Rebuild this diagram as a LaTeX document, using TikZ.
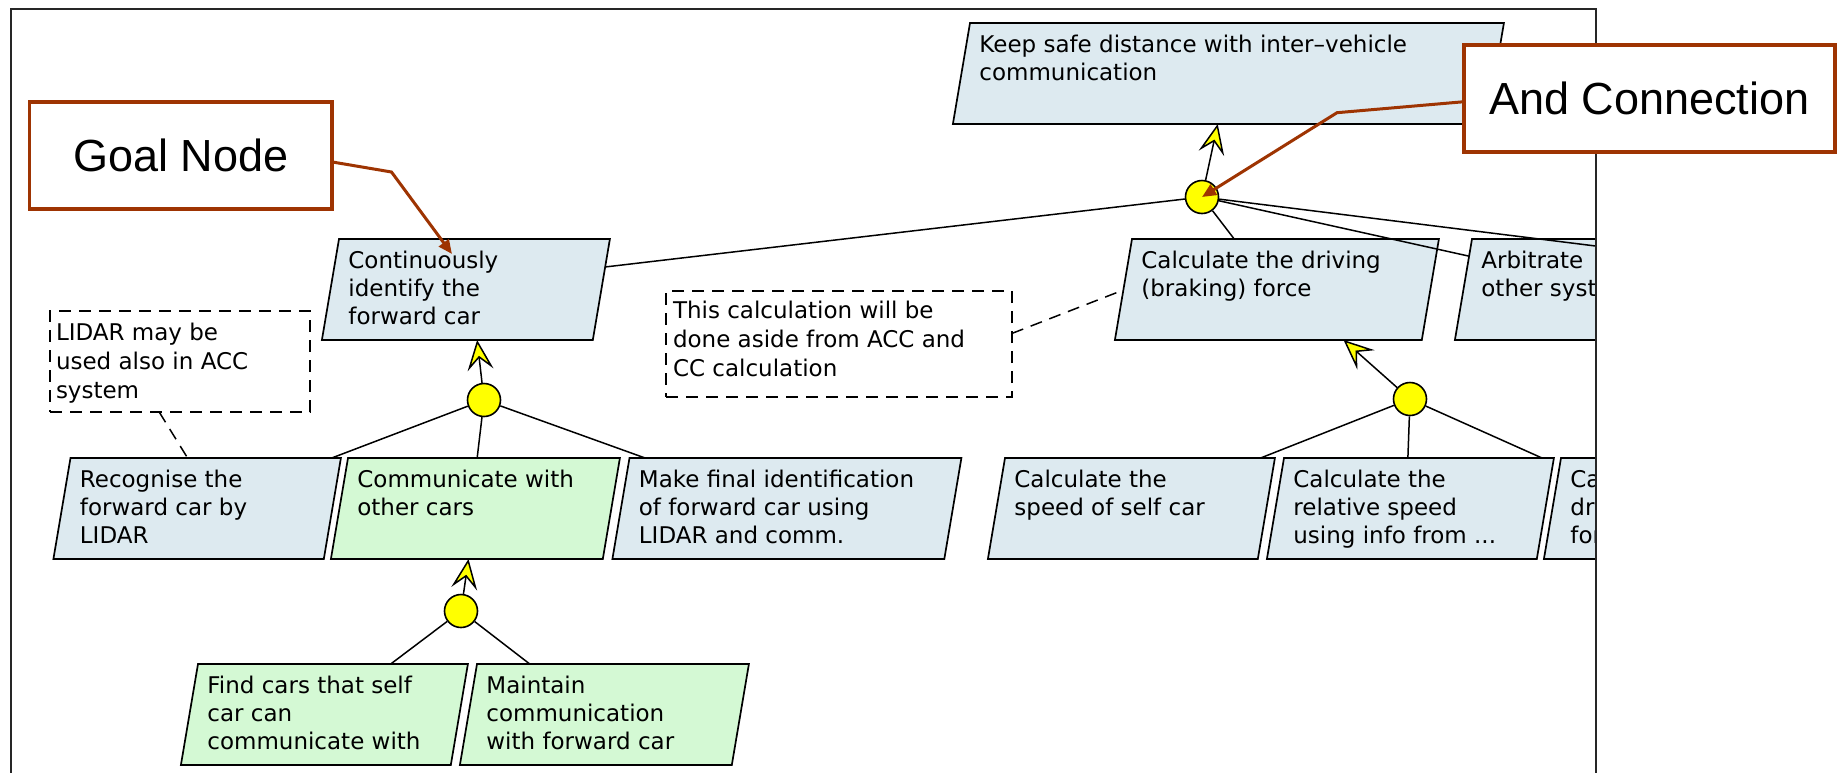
\documentclass[tikz,border=0pt]{standalone}
\usepackage{fontspec}
\setmainfont{DejaVu Sans}
\newfontfamily\boxfamily{DejaVu Sans}
\newfontfamily\calloutfamily{Liberation Sans}
\usetikzlibrary{shapes.geometric, arrows.meta, calc}

\definecolor{goalblue}{RGB}{221,234,240}
\definecolor{goalgreen}{RGB}{212,249,212}
\definecolor{calloutbrown}{RGB}{158,52,2}
\definecolor{andyellow}{RGB}{255,255,0}

\newcommand\goalfont{\boxfamily\fontsize{11.5pt}{14pt}\selectfont}
\newcommand\notefont{\boxfamily\fontsize{11.5pt}{14.5pt}\selectfont}

% goal box: name, x and y of the top left corner, length of the top edge, fill, text
\newcommand\goal[6]{%
  \node[goal, fill=#5, minimum width={(#4+21)*0.5pt}] (#1) at (#2,#3)
    {\parbox[c][41.1pt][t]{\dimexpr(#4pt-32pt)/2\relax}{\raggedright\strut #6}};}

\begin{document}
\begin{tikzpicture}[x=0.5pt, y=-0.5pt,
  goal/.style={trapezium, trapezium left angle=78.25, trapezium right angle=101.75,
    trapezium stretches body, draw=black, line width=0.85pt, minimum height=50.5pt,
    inner sep=0pt, outer sep=0pt, anchor=top left corner, font=\goalfont},
  andnode/.style={circle, draw=black, fill=andyellow, line width=0.8pt,
    minimum size=16.5pt, inner sep=0pt},
  andline/.style={line width=0.75pt},
  andarrow/.style={line width=0.75pt,
    -{Stealth[length=15pt, width=13pt, inset=6pt, fill=andyellow]}},
  note/.style={draw=black, dash pattern=on 6pt off 4pt, line width=0.75pt,
    rectangle, inner sep=0pt, outer sep=0pt, anchor=north west, font=\notefont},
  notelink/.style={dash pattern=on 6pt off 4pt, line width=0.75pt},
  callout/.style={rectangle, draw=calloutbrown, fill=white, line width=1.6pt,
    inner sep=0pt, outer sep=0pt, anchor=north west,
    font=\calloutfamily\fontsize{22.5pt}{27pt}\selectfont},
  calloutarrow/.style={draw=calloutbrown, line width=1.5pt,
    -{Triangle[length=7pt, width=6pt]}},
  frame/.style={draw=black!85, line width=1pt}]

\useasboundingbox (0,0) rectangle (1838,772);
\clip (0,0) rectangle (1838,772);

\begin{scope}
  \clip (11,9) rectangle (1596,800);

  % goals
  \goal{keep}{970}{23}{530}{goalblue}{Keep safe distance with inter–vehicle\\communication}
  \goal{cont}{339}{239}{267}{goalblue}{Continuously\\identify the\\forward car}
  \goal{drive}{1132}{239}{303}{goalblue}{Calculate the driving\\(braking) force}
  \goal{arb}{1472}{239}{266}{goalblue}{Arbitrate\\other systems}
  \goal{recog}{70.5}{458}{266.5}{goalblue}{Recognise the\\forward car by\\LIDAR}
  \goal{comm}{348}{458}{268}{goalgreen}{Communicate with\\other cars}
  \goal{make}{629.5}{458}{328}{goalblue}{Make final identification\\of forward car using\\LIDAR and comm.}
  \goal{speed}{1005}{458}{266}{goalblue}{Calculate the\\speed of self car}
  \goal{rel}{1284}{458}{266}{goalblue}{Calculate the\\relative speed\\using info from ...}
  \goal{far}{1561}{458}{266}{goalblue}{Calculate\\driving\\force}
  \goal{find}{198}{664}{266}{goalgreen}{Find cars that self\\car can\\communicate with}
  \goal{maint}{477}{664}{268}{goalgreen}{Maintain\\communication\\with forward car}

  % notes
  \node[note, minimum width=130pt, minimum height=50.5pt] (lidar) at (50,311)
    {\parbox[c][41.8pt][t]{124pt}{\raggedright\strut LIDAR may be\\used also in ACC\\system}};
  \node[note, minimum width=173pt, minimum height=53pt] (calcnote) at (666,291)
    {\parbox[c][46.3pt][t]{166pt}{\raggedright\strut This calculation will be\\done aside from ACC and\\CC calculation}};
  \draw[notelink] ($(lidar.south west)!0.42!(lidar.south east)$)
    -- ($(recog.top left corner)!0.433!(recog.top right corner)$);
  \draw[notelink] ($(calcnote.north east)!0.4!(calcnote.south east)$)
    -- ($(drive.top left corner)!0.505!(drive.bottom left corner)$);

  % and-connections
  \node[andnode] (c1) at (1202,197) {};
  \node[andnode] (c2) at (484,400) {};
  \node[andnode] (c3) at (461,611) {};
  \node[andnode] (c4) at (1410,399) {};
  \coordinate (offright) at (1700,259);

  \draw[andarrow] (c1) -- ($(keep.bottom left corner)!0.496!(keep.bottom right corner)$);
  \draw[andline] (c1) -- ($(cont.top right corner)!0.277!(cont.bottom right corner)$);
  \draw[andline] (c1) -- ($(drive.top left corner)!0.333!(drive.top right corner)$);
  \draw[andline] (c1) -- ($(arb.top left corner)!0.17!(arb.bottom left corner)$);
  \draw[andline] (c1) -- (offright);

  \draw[andarrow] (c2) -- ($(cont.bottom left corner)!0.573!(cont.bottom right corner)$);
  \draw[andline] (c2) -- ($(recog.top left corner)!0.966!(recog.top right corner)$);
  \draw[andline] (c2) -- ($(comm.top left corner)!0.475!(comm.top right corner)$);
  \draw[andline] (c2) -- ($(make.top left corner)!0.047!(make.top right corner)$);

  \draw[andarrow] (c3) -- ($(comm.bottom left corner)!0.506!(comm.bottom right corner)$);
  \draw[andline] (c3) -- ($(find.top left corner)!0.714!(find.top right corner)$);
  \draw[andline] (c3) -- ($(maint.top left corner)!0.194!(maint.top right corner)$);

  \draw[andarrow] (c4) -- ($(drive.bottom left corner)!0.745!(drive.bottom right corner)$);
  \draw[andline] (c4) -- ($(speed.top left corner)!0.947!(speed.top right corner)$);
  \draw[andline] (c4) -- ($(rel.top left corner)!0.459!(rel.top right corner)$);
  \draw[andline] (c4) -- ($(far.top left corner)+(-19,0)$);
\end{scope}

% frame
\draw[frame] (11,9) rectangle (1596,800);

% callouts
\node[callout, minimum width=151.25pt, minimum height=53.5pt] (goalcall) at (29.5,102) {Goal Node};
\coordinate (goalbend) at (391.5,172);
\coordinate (goaltip) at ($(cont.top left corner)+(113,15)$);
\draw[calloutarrow] ($(goalcall.north east)!0.56!(goalcall.south east)$) -- (goalbend) -- (goaltip);

\node[callout, minimum width=185.5pt, minimum height=53.5pt] (andcall) at (1464,45) {And Connection};
\coordinate (andbend) at (1337,112.7);
\draw[calloutarrow] ($(andcall.north west)!0.53!(andcall.south west)$) -- (andbend) -- (c1.center);
\end{tikzpicture}
\end{document}
